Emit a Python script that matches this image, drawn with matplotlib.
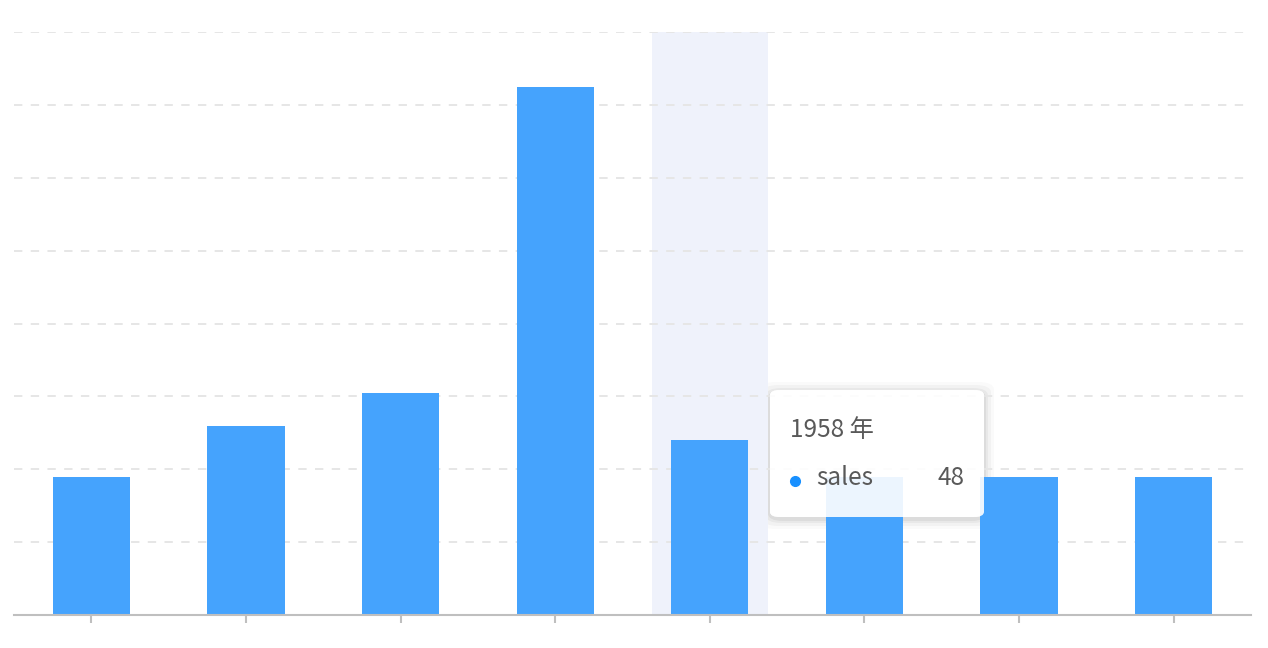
import matplotlib
matplotlib.use('Agg')
import matplotlib.pyplot as plt
from matplotlib.patches import FancyBboxPatch
import numpy as np

plt.rcParams['font.family'] = ['Noto Sans CJK SC', 'DejaVu Sans']

# data
years = ['1951 年', '1952 年', '1956 年', '1957 年', '1958 年', '1959 年', '1960 年', '1962 年']
sales = [38, 52, 61, 145, 48, 38, 38, 38]
active = 4  # bar under the tooltip

W, H = 1268, 648
fig = plt.figure(figsize=(W / 100, H / 100), dpi=100, facecolor='white')
ax = fig.add_axes([14 / W, 1 - 615 / H, (1251 - 14) / W, (615 - 32) / H])
ax.patch.set_alpha(0)

x = np.arange(len(years))
ax.set_xlim(-0.5, len(years) - 0.5)
ax.set_ylim(0, 160)

# highlighted band
ax.bar(x[active], 160, width=0.75, color='#eff2fb', zorder=0)

ax.bar(x, sales, width=0.5, color='#45a3fd', zorder=2)

# grid
for yv in np.arange(20, 161, 20):
    ax.axhline(yv, color='#e6e6e6', linewidth=1.4, dashes=(4.3, 4.3), zorder=1)

for s in ['top', 'right', 'left']:
    ax.spines[s].set_visible(False)
ax.spines['bottom'].set_color('#bfbfbf')
ax.spines['bottom'].set_linewidth(1.5)
ax.set_yticks([])
ax.set_xticks(x)
ax.set_xticklabels(years, fontsize=17, color='#8c8c8c')
ax.tick_params(axis='x', length=6, width=1.5, color='#bfbfbf', pad=20)

# tooltip (shadow sits below the axes content, box on top)
tx0, ty0, tw, th = 770, 390, 214, 127
box_xy = (tx0 / W, 1 - (ty0 + th) / H)
for grow, a in [(10, 0.02), (7, 0.03), (4, 0.04), (2, 0.05)]:
    sh = FancyBboxPatch(((tx0 - grow) / W, 1 - (ty0 + th + grow + 2) / H), (tw + 2 * grow) / W, (th + 2 * grow) / H,
                        boxstyle='round,pad=0,rounding_size=0.012', transform=fig.transFigure,
                        facecolor='#000000', edgecolor='none', alpha=a, zorder=-1)
    fig.patches.append(sh)
# clear the shadow inside the box
fig.patches.append(FancyBboxPatch(box_xy, tw / W, th / H,
                                  boxstyle='round,pad=0,rounding_size=0.008', transform=fig.transFigure,
                                  facecolor='white', edgecolor='none', zorder=-0.5))
tip = FancyBboxPatch(box_xy, tw / W, th / H,
                     boxstyle='round,pad=0,rounding_size=0.008', transform=fig.transFigure,
                     facecolor='white', edgecolor='none', alpha=0.9, zorder=6)
fig.patches.append(tip)

fig.text(790 / W, 1 - 430 / H, years[active], fontsize=17.5, color='#595959',
         va='center', ha='left', zorder=7)
fig.add_artist(plt.Line2D([795 / W], [1 - 481 / H], marker='o', markersize=7,
                          color='#1890ff', transform=fig.transFigure, zorder=7))
fig.text(816 / W, 1 - 478 / H, 'sales', fontsize=17.5, color='#595959',
         va='center', ha='left', zorder=7)
fig.text(964 / W, 1 - 478 / H, str(sales[active]), fontsize=17.5, color='#595959',
         va='center', ha='right', zorder=7)

fig.savefig('out.png', dpi=100, facecolor='white')
